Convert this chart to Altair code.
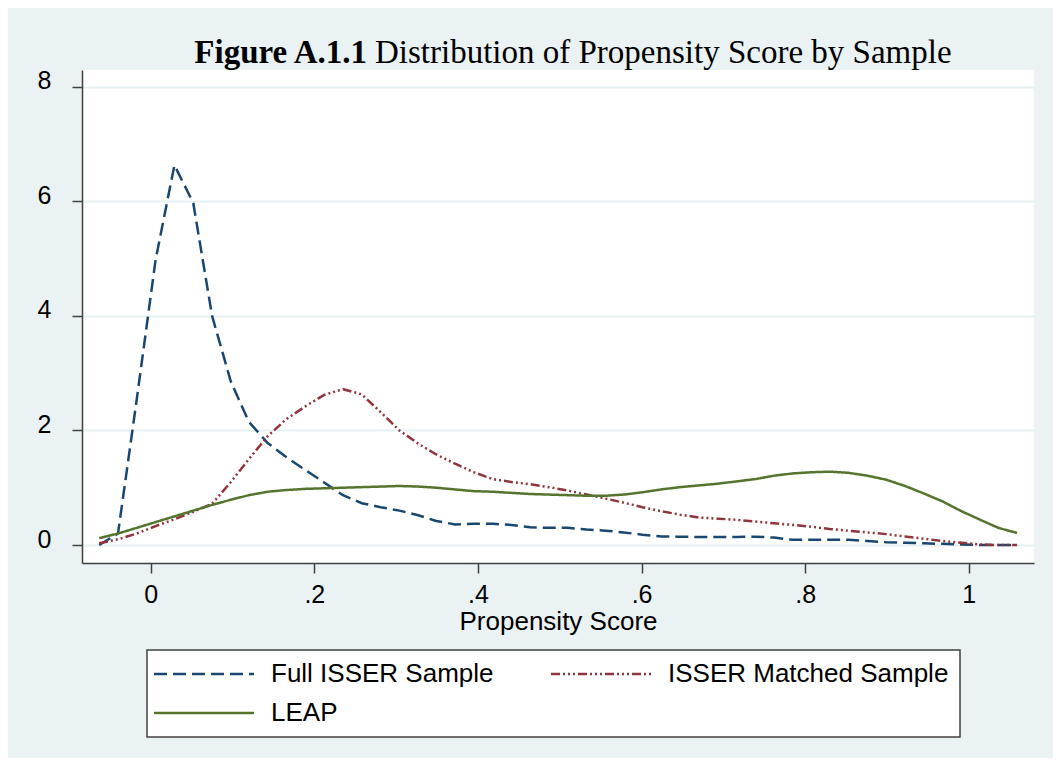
import altair as alt
import pandas as pd

# Evaluation grid (propensity score)
x_grid = [-0.063, -0.040, -0.017, 0.006, 0.029, 0.052, 0.075, 0.098, 0.120, 0.143,
          0.166, 0.189, 0.212, 0.235, 0.258, 0.281, 0.304, 0.327, 0.349, 0.372,
          0.395, 0.418, 0.441, 0.464, 0.487, 0.510, 0.533, 0.556, 0.578, 0.601,
          0.624, 0.647, 0.670, 0.693, 0.716, 0.739, 0.762, 0.785, 0.807, 0.830,
          0.853, 0.876, 0.899, 0.922, 0.945, 0.968, 0.991, 1.014, 1.036, 1.059]

full_isser = [0.00, 0.20, 2.55, 4.98, 6.63, 5.97, 4.00, 2.85, 2.15, 1.78,
              1.53, 1.31, 1.09, 0.87, 0.73, 0.66, 0.60, 0.52, 0.42, 0.36,
              0.37, 0.37, 0.35, 0.31, 0.30, 0.30, 0.27, 0.25, 0.22, 0.18,
              0.15, 0.145, 0.14, 0.14, 0.14, 0.145, 0.13, 0.09, 0.09, 0.09,
              0.09, 0.07, 0.05, 0.04, 0.03, 0.02, 0.01, 0.00, 0.00, 0.00]

isser_matched = [0.03, 0.10, 0.20, 0.33, 0.45, 0.58, 0.72, 1.10, 1.50, 1.90,
                 2.20, 2.42, 2.62, 2.72, 2.63, 2.32, 2.00, 1.77, 1.58, 1.42,
                 1.27, 1.15, 1.10, 1.06, 1.01, 0.95, 0.88, 0.81, 0.74, 0.66,
                 0.59, 0.53, 0.48, 0.46, 0.44, 0.41, 0.38, 0.35, 0.32, 0.28,
                 0.25, 0.22, 0.19, 0.15, 0.11, 0.07, 0.04, 0.01, 0.00, 0.00]

leap = [0.12, 0.20, 0.30, 0.40, 0.50, 0.60, 0.70, 0.79, 0.87, 0.93,
        0.96, 0.98, 0.99, 1.00, 1.01, 1.02, 1.03, 1.02, 1.00, 0.97,
        0.94, 0.93, 0.91, 0.89, 0.88, 0.87, 0.86, 0.86, 0.88, 0.92,
        0.97, 1.01, 1.04, 1.07, 1.11, 1.15, 1.21, 1.25, 1.27, 1.28,
        1.26, 1.21, 1.14, 1.03, 0.90, 0.76, 0.59, 0.44, 0.30, 0.21]

series_names = ["Full ISSER Sample", "ISSER Matched Sample", "LEAP"]
series_colors = ["#1A476F", "#90353B", "#55752F"]
series_dashes = [[13, 6], [9, 3, 2, 3, 2, 3, 2, 3], [1, 0]]

y_ticks = [0, 2, 4, 6, 8]
x_ticks = [0, 0.2, 0.4, 0.6, 0.8, 1]

rows = []
for name, vals in zip(series_names, [full_isser, isser_matched, leap]):
    for i, (xv, yv) in enumerate(zip(x_grid, vals)):
        rows.append({"x": xv, "y": yv, "series": name, "order": i})
df = pd.DataFrame(rows)

lines = alt.Chart(df).mark_line(strokeWidth=2.5, clip=True).encode(
    x=alt.X("x:Q", scale=alt.Scale(domain=[-0.084, 1.0797], nice=False, zero=False),
            axis=alt.Axis(values=x_ticks, title="Propensity Score", grid=False,
                          labelExpr="datum.value == 0 ? '0' : datum.value == 1 ? '1' : replace(format(datum.value, '.1f'), '0.', '.')",
                          tickSize=10, labelPadding=9, labelFontSize=25,
                          titleFontSize=26, titleFontWeight="normal",
                          titleBaseline="alphabetic", titleY=66)),
    y=alt.Y("y:Q", scale=alt.Scale(domain=[-0.314, 8.291], nice=False, zero=False),
            axis=alt.Axis(values=y_ticks, title=None, grid=True, format="d",
                          tickSize=10, labelPadding=21, labelFontSize=25,
                          labelOffset=-6)),
    color=alt.Color("series:N", scale=alt.Scale(domain=series_names, range=series_colors),
                    title=None),
    strokeDash=alt.StrokeDash("series:N", scale=alt.Scale(domain=series_names, range=series_dashes),
                              title=None),
    order="order:Q",
)

title_bold = alt.Chart(pd.DataFrame({"t": [0]})).mark_text(
    text="Figure A.1.1", font="Liberation Serif", fontSize=33, fontWeight="bold",
    align="right", baseline="alphabetic", color="black"
).encode(x=alt.value(285), y=alt.value(-7))

title_rest = alt.Chart(pd.DataFrame({"t": [0]})).mark_text(
    text="Distribution of Propensity Score by Sample", font="Liberation Serif", fontSize=33,
    fontWeight="normal", align="left", baseline="alphabetic", color="black"
).encode(x=alt.value(293), y=alt.value(-7))

chart = alt.layer(lines, title_bold, title_rest).properties(
    width=952, height=493,
    autosize=alt.AutoSizeParams(type="none"),
    padding={"left": 74, "top": 62, "right": 19, "bottom": 195},
    background="#EAF2F3",
).configure_view(
    fill="white", stroke=None
).configure_axis(
    labelFont="Liberation Sans", titleFont="Liberation Sans",
    labelColor="black", titleColor="black",
    domainColor="#404040", domainWidth=1.5, tickColor="#404040", tickWidth=1.5,
    gridColor="#E6EFF1", gridWidth=2,
).configure_legend(
    orient="none", legendX=65, legendY=580, columns=2, direction="horizontal",
    symbolType="M-5,0H5", symbolSize=400, symbolStrokeWidth=2.5, symbolOffset=33,
    labelFont="Liberation Sans", labelFontSize=26, labelColor="black",
    labelOffset=54, columnPadding=52, rowPadding=13, padding=11,
    fillColor="white", strokeColor="#404040", strokeWidth=1.5,
    labelLimit=0,
)

chart.save("out.html", embed_options={"renderer": "svg", "actions": False})
